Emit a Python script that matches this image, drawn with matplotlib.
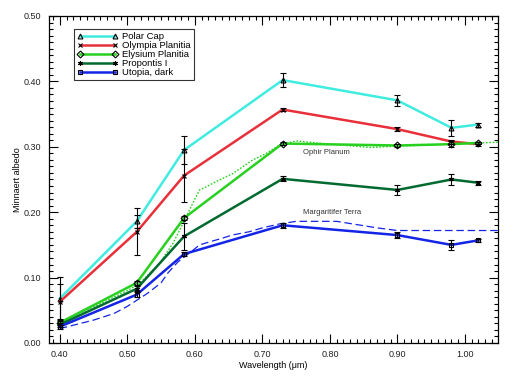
import numpy as np
import matplotlib.pyplot as plt
from matplotlib.ticker import MultipleLocator

# wavelengths of the filters (micron)
wave = [0.40, 0.514, 0.584, 0.73, 0.90, 0.98, 1.02]

polar_cap = [0.068, 0.186, 0.295, 0.402, 0.371, 0.329, 0.334]
polar_err = [0.033, 0.010, 0.022, 0.011, 0.008, 0.012, 0.003]
olympia = [0.063, 0.170, 0.256, 0.357, 0.327, 0.308, 0.304]
olympia_err = [0.027, 0.036, 0.040, 0.003, 0.003, 0.003, 0.003]
elysium = [0.031, 0.092, 0.191, 0.305, 0.302, 0.304, 0.306]
elysium_err = [0.003, 0.003, 0.003, 0.002, 0.002, 0.005, 0.002]
propontis = [0.028, 0.083, 0.163, 0.251, 0.234, 0.250, 0.245]
propontis_err = [0.003, 0.004, 0.021, 0.004, 0.008, 0.009, 0.003]
utopia = [0.025, 0.074, 0.136, 0.180, 0.165, 0.150, 0.157]
utopia_err = [0.003, 0.004, 0.003, 0.004, 0.005, 0.008, 0.002]

# Ophir Planum spectrum (dotted)
ophir_w = [0.40, 0.45, 0.50, 0.518, 0.548, 0.568, 0.585, 0.597, 0.607, 0.617, 0.632, 0.656, 0.686, 0.706,
           0.726, 0.75, 0.80, 0.86, 0.90, 0.95, 1.00, 1.05]
ophir_a = [0.032, 0.055, 0.080, 0.091, 0.122, 0.153, 0.188, 0.214, 0.234, 0.239, 0.247, 0.259, 0.280, 0.290,
           0.303, 0.309, 0.304, 0.299, 0.301, 0.303, 0.305, 0.307]
# Margaritifer Terra spectrum (dashed)
marg_w = [0.40, 0.45, 0.48, 0.50, 0.53, 0.55, 0.56, 0.575, 0.595, 0.607, 0.623, 0.64, 0.655, 0.68, 0.70,
          0.725, 0.75, 0.81, 0.87, 0.90, 0.95, 1.00, 1.05]
marg_a = [0.022, 0.035, 0.045, 0.056, 0.076, 0.092, 0.107, 0.124, 0.140, 0.150, 0.155, 0.160, 0.165, 0.170, 0.176,
          0.182, 0.186, 0.186, 0.176, 0.172, 0.172, 0.172, 0.172]

series = [
    ("Polar Cap", polar_cap, polar_err, "#40ECE0", "^"),
    ("Olympia Planitia", olympia, olympia_err, "#E8303A", "x"),
    ("Elysium Planitia", elysium, elysium_err, "#28D020", "D"),
    ("Propontis I", propontis, propontis_err, "#006A30", (6, 2, 0)),
    ("Utopia, dark", utopia, utopia_err, "#1424E6", "s"),
]

plt.rcParams['font.family'] = ['Liberation Sans', 'DejaVu Sans']
fig = plt.figure(figsize=(5.13, 3.78), dpi=100)
ax = fig.add_axes([0.0955, 0.0926, 0.8753, 0.8651])

ax.plot(ophir_w, ophir_a, color="#28D020", lw=1.0, ls=(0, (1.2, 1.2)), zorder=2)
ax.plot(marg_w, marg_a, color="#1424E6", lw=0.9, ls=(0, (6, 3)), zorder=2)

for name, vals, err, col, mk in series:
    ax.errorbar(wave, vals, yerr=err, fmt="none", ecolor="black", elinewidth=0.8,
                capsize=2.0, capthick=0.8, zorder=4)
    ax.plot(wave, vals, color=col, lw=1.8, marker=mk, ms=3.5, mfc="none",
            mec="black", mew=0.8, label=name, zorder=3)

ax.text(0.760, 0.2915, "Ophir Planum", fontsize=5.5, color="#333333", va="center")
ax.text(0.760, 0.200, "Margaritifer Terra", fontsize=5.5, color="#333333", va="center")

ax.set_xlim(0.384, 1.049)
ax.set_ylim(0.0, 0.5)
ax.xaxis.set_major_locator(MultipleLocator(0.1))
ax.xaxis.set_minor_locator(MultipleLocator(0.01))
ax.yaxis.set_major_locator(MultipleLocator(0.1))
ax.yaxis.set_minor_locator(MultipleLocator(0.01))
ax.xaxis.set_major_formatter(plt.FormatStrFormatter("%.2f"))
ax.yaxis.set_major_formatter(plt.FormatStrFormatter("%.2f"))
ax.tick_params(which="both", direction="in", top=True, right=True, labelsize=6.5, width=0.8,
               labelcolor="#222222")
ax.tick_params(which="major", length=6.5)
ax.tick_params(axis="y", which="major", pad=6)
ax.tick_params(axis="x", which="major", pad=5)
ax.tick_params(which="minor", length=3)
for s in ax.spines.values():
    s.set_linewidth(0.9)

ax.set_xlabel("Wavelength (\u03bcm)", fontsize=6.5, labelpad=1.5)
ax.set_ylabel("Minnaert albedo", fontsize=6.5, labelpad=0.5)

leg = ax.legend(loc="upper left", bbox_to_anchor=(0.056, 0.96), borderaxespad=0, fontsize=6.8,
                frameon=True, fancybox=False, edgecolor="black", handlelength=4.3,
                handletextpad=0.5, labelspacing=0.0, borderpad=0.3, numpoints=2)
leg.get_frame().set_linewidth(0.8)

fig.savefig("out.png", dpi=100)
